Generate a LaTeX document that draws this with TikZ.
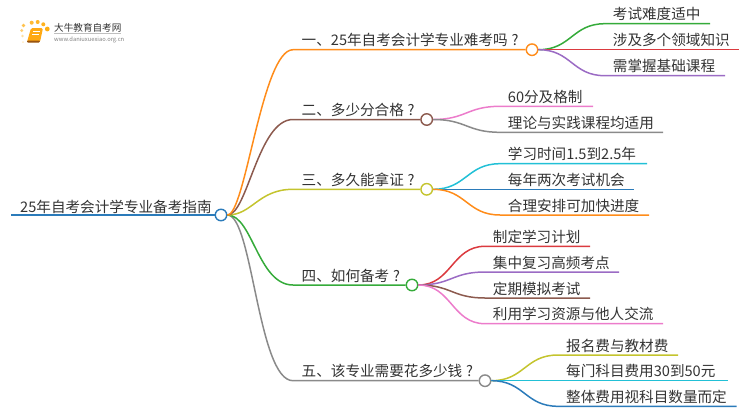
\documentclass[tikz,border=0pt]{standalone}
\usepackage{fontspec}
\setmainfont{Noto Sans CJK SC}
\definecolor{cblue}{HTML}{2B7BBA}
\definecolor{corange}{HTML}{FF8C1A}
\definecolor{cbrown}{HTML}{8C5A4E}
\definecolor{colive}{HTML}{C4C42E}
\definecolor{cgreen}{HTML}{35AB3A}
\definecolor{cgray}{HTML}{8A8A8A}
\definecolor{cred}{HTML}{DB3A3F}
\definecolor{cpurple}{HTML}{9B6BC4}
\definecolor{cpink}{HTML}{EC7CCB}
\definecolor{ccyan}{HTML}{22C0D6}
\definecolor{ctext}{HTML}{333333}
\newcommand{\qmark}{\makebox[1em]{?}}
\tikzset{
  lbl/.style={anchor=base west,inner sep=0pt,text=ctext,font=\fontsize{14.6}{16}\selectfont},
  hub/.style={circle,draw=#1,fill=white,line width=1.4pt,minimum size=11.5pt,inner sep=0pt},
  edge/.style={draw=#1,line width=1.5pt}
}
\begin{document}
\begin{tikzpicture}[x=1pt,y=-1pt]
\useasboundingbox (0,0) rectangle (750,410);
% logo
\foreach \px/\py/\pr/\po in {23/42/1/.25,22.5/36/1.3/.4,21.7/30.5/1.6/.6,23.5/25.5/1.9/.75,31.7/22.7/2/.85,37.7/22/2/.9,43.3/24.3/2/.95,47.3/29/2.4/1}
  \fill[corange!70!yellow,opacity=\po] (\px,\py) circle (\pr);
\fill[corange!75!yellow,rounded corners=1.5pt] (31,28) -- (43,28) -- (40,42) -- (27,42) -- cycle;
\fill[corange!60!black,rounded corners=.8pt] (27,40.5) -- (40,40.5) -- (39.6,42.5) -- (27,42.5) -- cycle;
\draw[white,line width=.6pt] (33,31) -- (40,31) (32.4,34) -- (39,34);
\node[anchor=base west,inner sep=0pt,text=ctext,font=\fontsize{9.6}{10}\selectfont] (logotext) at (54,31) {大牛教育自考网};
\node[anchor=base west,inner sep=0pt,text=gray,font=\fontsize{5.8}{6}\selectfont] (logourl) at (54,41) {www.daniuxuexiao.org.cn};
\draw[lightgray,line width=.4pt] (54,33.5) -- (121,33.5);
% root
\node[lbl] (root) at (20,212) {25年自考会计学专业备考指南};
\coordinate (rootl) at (11,215);
\node[hub=cblue] (c0) at (221,215) {};
% branches
\node[lbl] (n1) at (301.5,45.5) {一、25年自考会计学专业难考吗\qmark};
\node[lbl] (n2) at (301.5,115.5) {二、多少分合格\qmark};
\node[lbl] (n3) at (301.5,185.5) {三、多久能拿证\qmark};
\node[lbl] (n4) at (301.5,281) {四、如何备考\qmark};
\node[lbl] (n5) at (301.5,376.5) {五、该专业需要花多少钱\qmark};
\coordinate (s1) at (293,49.7);
\coordinate (s2) at (293,119.5);
\coordinate (s3) at (293,189.3);
\coordinate (s4) at (293,285);
\coordinate (s5) at (293,380.7);
\node[hub=corange] (c1) at (532,49.7) {};
\node[hub=cbrown] (c2) at (426.7,119.5) {};
\node[hub=colive] (c3) at (426.7,189.3) {};
\node[hub=cgreen] (c4) at (412,285) {};
\node[hub=cgray] (c5) at (485,380.7) {};
% leaves of the first branch
\node[lbl] (l11) at (612.7,19.7) {考试难度适中};
\node[lbl] (l12) at (612.7,45.7) {涉及多个领域知识};
\node[lbl] (l13) at (612.7,71.7) {需掌握基础课程};
\coordinate (a11) at (605,23.7);
\coordinate (a12) at (605,49.7);
\coordinate (a13) at (605,75.7);
\coordinate (e11) at (710,23.7);
\coordinate (e12) at (739,49.7);
\coordinate (e13) at (725,75.7);
% leaves of the second branch
\node[lbl] (l21) at (507.7,102.3) {60分及格制};
\node[lbl] (l22) at (507.7,128.3) {理论与实践课程均适用};
\coordinate (a21) at (500,106.3);
\coordinate (a22) at (500,132.3);
\coordinate (e21) at (593,106.3);
\coordinate (e22) at (663,132.3);
% leaves of the third branch
\node[lbl] (l31) at (507.7,159.7) {学习时间1.5到2.5年};
\node[lbl] (l32) at (507.7,185.3) {每年两次考试机会};
\node[lbl] (l33) at (507.7,211) {合理安排可加快进度};
\coordinate (a31) at (500,163.7);
\coordinate (a32) at (500,189.3);
\coordinate (a33) at (500,215);
\coordinate (e31) at (647,163.7);
\coordinate (e32) at (634,189.3);
\coordinate (e33) at (649,215);
% leaves of the fourth branch
\node[lbl] (l41) at (492.7,242.3) {制定学习计划};
\node[lbl] (l42) at (492.7,268) {集中复习高频考点};
\node[lbl] (l43) at (492.7,294) {定期模拟考试};
\node[lbl] (l44) at (492.7,319.7) {利用学习资源与他人交流};
\coordinate (a41) at (485,246.3);
\coordinate (a42) at (485,272);
\coordinate (a43) at (485,298);
\coordinate (a44) at (485,323.7);
\coordinate (e41) at (590,246.3);
\coordinate (e42) at (619,272);
\coordinate (e43) at (590,298);
\coordinate (e44) at (663,323.7);
% leaves of the fifth branch
\node[lbl] (l51) at (566,351) {报名费与教材费};
\node[lbl] (l52) at (566,376.7) {每门科目费用30到50元};
\node[lbl] (l53) at (566,402.3) {整体费用视科目数量而定};
\coordinate (a51) at (558,355);
\coordinate (a52) at (558,380.7);
\coordinate (a53) at (558,406.3);
\coordinate (e51) at (678,355);
\coordinate (e52) at (727.7,380.7);
\coordinate (e53) at (736.7,406.3);
% connectors
\draw[edge=cgray] (c0.east) .. controls +(right:25) and +(left:35) .. (s5) -- (c5.west);
\draw[edge=cgreen] (c0.east) .. controls +(right:25) and +(left:35) .. (s4) -- (c4.west);
\draw[edge=colive] (c0.east) .. controls +(right:25) and +(left:35) .. (s3) -- (c3.west);
\draw[edge=cbrown] (c0.east) .. controls +(right:20) and +(left:35) .. (s2) -- (c2.west);
\draw[edge=corange] (c0.east) .. controls +(right:18) and +(left:31) .. (s1) -- (c1.west);
\draw[edge=cblue,line width=2pt] (rootl) -- (c0.west);
\draw[edge=cgreen] (c1.east) .. controls +(right:33) and +(left:33) .. (a11) -- (e11);
\draw[edge=cred] (c1.east) -- (a12) -- (e12);
\draw[edge=cpurple] (c1.east) .. controls +(right:33) and +(left:33) .. (a13) -- (e13);
\draw[edge=cpink] (c2.east) .. controls +(right:33) and +(left:33) .. (a21) -- (e21);
\draw[edge=cgray] (c2.east) .. controls +(right:33) and +(left:33) .. (a22) -- (e22);
\draw[edge=ccyan] (c3.east) .. controls +(right:33) and +(left:33) .. (a31) -- (e31);
\draw[edge=cblue] (c3.east) -- (a32) -- (e32);
\draw[edge=corange] (c3.east) .. controls +(right:33) and +(left:33) .. (a33) -- (e33);
\draw[edge=cred] (c4.east) .. controls +(right:33) and +(left:33) .. (a41) -- (e41);
\draw[edge=cpurple] (c4.east) .. controls +(right:33) and +(left:33) .. (a42) -- (e42);
\draw[edge=cbrown] (c4.east) .. controls +(right:33) and +(left:33) .. (a43) -- (e43);
\draw[edge=cpink] (c4.east) .. controls +(right:33) and +(left:33) .. (a44) -- (e44);
\draw[edge=colive] (c5.east) .. controls +(right:33) and +(left:33) .. (a51) -- (e51);
\draw[edge=ccyan] (c5.east) -- (a52) -- (e52);
\draw[edge=cblue] (c5.east) .. controls +(right:33) and +(left:33) .. (a53) -- (e53);
\end{tikzpicture}
\end{document}
